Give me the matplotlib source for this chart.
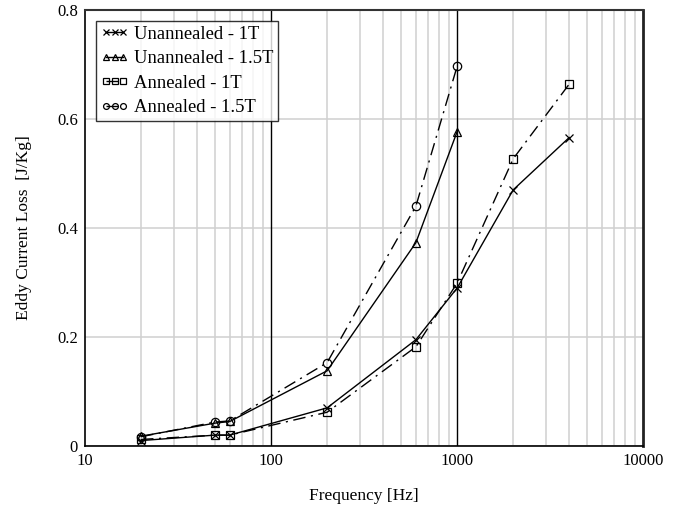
import matplotlib
matplotlib.use("Agg")
import matplotlib.pyplot as plt
from matplotlib.ticker import FixedLocator, NullFormatter

plt.rcParams['font.family'] = ['Liberation Serif', 'DejaVu Serif']

freq_1t = [20, 50, 60, 200, 600, 1000, 2000, 4000]
freq_15t = [20, 50, 60, 200, 600, 1000]
unann_1t = [0.010, 0.020, 0.020, 0.070, 0.195, 0.290, 0.470, 0.566]
unann_15t = [0.018, 0.042, 0.045, 0.138, 0.373, 0.577]
ann_1t = [0.012, 0.020, 0.020, 0.062, 0.182, 0.299, 0.527, 0.664]
ann_15t = [0.017, 0.044, 0.046, 0.153, 0.440, 0.697]

labels = ["Unannealed - 1T", "Unannealed - 1.5T", "Annealed - 1T", "Annealed - 1.5T"]
x_ticks = [10, 100, 1000, 10000]
x_ticklabels = ["10", "100", "1000", "10000"]
y_ticks = [0, 0.2, 0.4, 0.6, 0.8]
y_ticklabels = ["0", "0.2", "0.4", "0.6", "0.8"]

fig = plt.figure(figsize=(6.82, 5.05), dpi=100)
ax = fig.add_axes([0.1246, 0.1168, 0.8186, 0.8634])

dashdot = (0, (9, 4, 1.5, 4))
ms = 6
ax.plot(freq_1t, unann_1t, color='black', lw=1, marker='x', ms=ms, mew=0.9, label=labels[0])
ax.plot(freq_15t, unann_15t, color='black', lw=1, marker='^', ms=ms, mew=0.9, fillstyle='none', label=labels[1])
ax.plot(freq_1t, ann_1t, color='black', lw=1, ls=dashdot, marker='s', ms=ms, mew=0.9, fillstyle='none', label=labels[2])
ax.plot(freq_15t, ann_15t, color='black', lw=1, ls=dashdot, marker='o', ms=ms, mew=0.9, fillstyle='none', label=labels[3])

ax.set_xscale('log')
ax.set_xlim(10, 10000)
ax.set_ylim(0, 0.8)
ax.xaxis.set_major_locator(FixedLocator(x_ticks))
ax.set_xticklabels(x_ticklabels)
ax.xaxis.set_minor_locator(FixedLocator([m * 10**d for d in (1, 2, 3) for m in range(2, 10)]))
ax.xaxis.set_minor_formatter(NullFormatter())
ax.set_yticks(y_ticks)
ax.set_yticklabels(y_ticklabels)

ax.grid(True, which='minor', axis='x', color='#d0d0d0', lw=1.1)
ax.grid(True, which='major', axis='y', color='#d0d0d0', lw=1.1)
for xv in [100, 1000]:
    ax.axvline(xv, color='black', lw=1, zorder=1.5)
ax.set_axisbelow(True)

ax.tick_params(which='both', length=0, labelsize=12, pad=5)
for s in ['left', 'bottom']:
    ax.spines[s].set_linewidth(1.2)
ax.spines['top'].set_linewidth(1.5)
ax.spines['top'].set_color('#333333')
ax.spines['right'].set_linewidth(2)
ax.spines['right'].set_color('#222222')

ax.set_xlabel("Frequency [Hz]", fontsize=12.5, labelpad=14)
ax.set_ylabel("Eddy Current Loss  [J/Kg]", fontsize=12.5, labelpad=18)

leg = ax.legend(loc='upper left', bbox_to_anchor=(0.0, 1.0), numpoints=3, handlelength=1.5,
                handletextpad=0.3, fontsize=13.4, frameon=True, fancybox=False, borderaxespad=0.6,
                labelspacing=0.4, borderpad=0.25, markerscale=0.7)
leg.get_frame().set_edgecolor('black')
leg.get_frame().set_linewidth(1)

fig.savefig("out.png", dpi=100)
